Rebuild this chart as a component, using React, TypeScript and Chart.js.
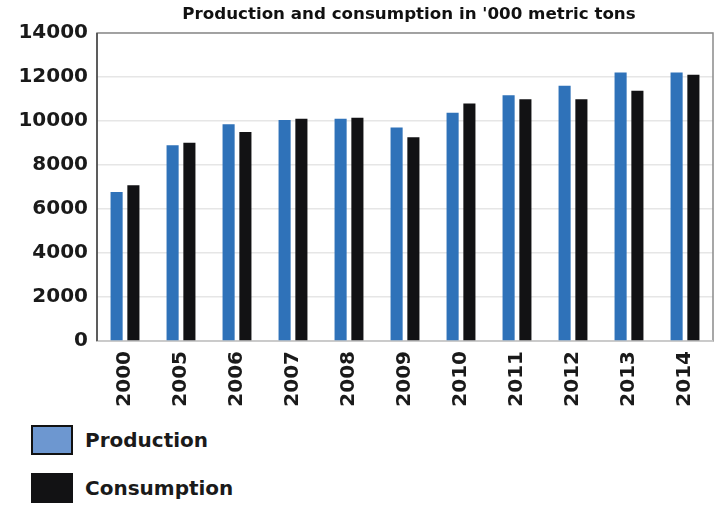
import React, { useEffect, useRef } from "react";
import { Chart, registerables } from "chart.js";

Chart.register(...registerables);

const categories = ["2000", "2005", "2006", "2007", "2008", "2009", "2010", "2011", "2012", "2013", "2014"];
const production = [6770, 8900, 9850, 10050, 10100, 9700, 10380, 11170, 11600, 12210, 12210];
const consumption = [7080, 9010, 9500, 10100, 10150, 9260, 10790, 10990, 10990, 11380, 12100];
const yTicks = [0, 2000, 4000, 6000, 8000, 10000, 12000, 14000];
const titleText = "Production and consumption in '000 metric tons";
const seriesNames = ["Production", "Consumption"];

const FONT = "'DejaVu Sans', Verdana, sans-serif";
const BLUE = "#2f72b9";
const BLACK = "#121214";

export default function App() {
  const ref = useRef<HTMLCanvasElement | null>(null);

  useEffect(() => {
    if (!ref.current) return;
    const framePlugin = {
      id: "frame",
      beforeDatasetsDraw(chart: any) {
        const { ctx, chartArea } = chart;
        ctx.save();
        ctx.strokeStyle = "#8a8a8a";
        ctx.lineWidth = 1.5;
        ctx.strokeRect(chartArea.left, chartArea.top, chartArea.right - chartArea.left, chartArea.bottom - chartArea.top);
        ctx.strokeStyle = "#d8d8d8";
        ctx.beginPath();
        ctx.moveTo(chartArea.left, chartArea.bottom);
        ctx.lineTo(chartArea.right, chartArea.bottom);
        ctx.stroke();
        ctx.strokeStyle = "#444";
        ctx.beginPath();
        ctx.moveTo(chartArea.left, chartArea.top);
        ctx.lineTo(chartArea.left, chartArea.bottom);
        ctx.stroke();
        ctx.restore();
      },
      afterDraw(chart: any) {
        const { ctx, chartArea } = chart;
        ctx.save();
        ctx.fillStyle = "#111";
        ctx.font = `bold 16.7px ${FONT}`;
        ctx.textAlign = "center";
        ctx.textBaseline = "middle";
        ctx.fillText(titleText, (chartArea.left + chartArea.right) / 2 + 4, 15);
        ctx.restore();
      },
    };

    const chart = new Chart(ref.current, {
      type: "bar",
      data: {
        labels: categories,
        datasets: [
          { label: seriesNames[0], data: production, backgroundColor: BLUE, barPercentage: 0.72, categoryPercentage: 0.6 },
          { label: seriesNames[1], data: consumption, backgroundColor: BLACK, barPercentage: 0.72, categoryPercentage: 0.6 },
        ],
      },
      options: {
        animation: false,
        responsive: false,
        maintainAspectRatio: false,
        layout: { padding: { top: 33, right: 1, left: 0, bottom: 0 } },
        plugins: {
          legend: { display: false },
          title: { display: false },
          tooltip: { enabled: false },
        },
        scales: {
          x: {
            grid: { display: false, drawTicks: false },
            border: { display: false },
            ticks: {
              color: "#1a1a1a",
              font: { family: FONT, size: 20, weight: "bold" },
              minRotation: 90,
              maxRotation: 90,
              padding: 10,
              autoSkip: false,
            },
            afterFit(scale: any) {
              scale.height = 79;
              scale.paddingLeft = 0;
              scale.paddingRight = 0;
            },
          },
          y: {
            min: 0,
            max: 14000,
            afterBuildTicks(scale: any) {
              scale.ticks = yTicks.map((v) => ({ value: v }));
            },
            grid: { color: "#e6e6e6", lineWidth: 1.5, drawTicks: false },
            border: { display: false },
            ticks: {
              color: "#1a1a1a",
              font: { family: FONT, size: 20, weight: "bold" },
              padding: 9,
              callback: (v: any) => String(v),
            },
            afterFit(scale: any) {
              scale.width = 97;
            },
          },
        },
      },
      plugins: [framePlugin],
    } as any);
    return () => chart.destroy();
  }, []);

  const legendItem = (name: string, fill: string, border: string, top: number) => (
    <div style={{ position: "absolute", left: 31, top, display: "flex", alignItems: "center" }}>
      <div style={{ width: 38, height: 26, background: fill, border: `2px solid ${border}` }} />
      <span style={{ marginLeft: 12, fontFamily: FONT, fontWeight: "bold", fontSize: 20, color: "#1a1a1a" }}>{name}</span>
    </div>
  );

  return (
    <div style={{ position: "fixed", left: 0, top: 0, width: 714, height: 505, background: "#fff" }}>
      <canvas ref={ref} width={714} height={420} style={{ position: "absolute", left: 0, top: 0 }} />
      {legendItem(seriesNames[0], "#6d97d0", "#111", 425)}
      {legendItem(seriesNames[1], BLACK, BLACK, 473)}
    </div>
  );
}
